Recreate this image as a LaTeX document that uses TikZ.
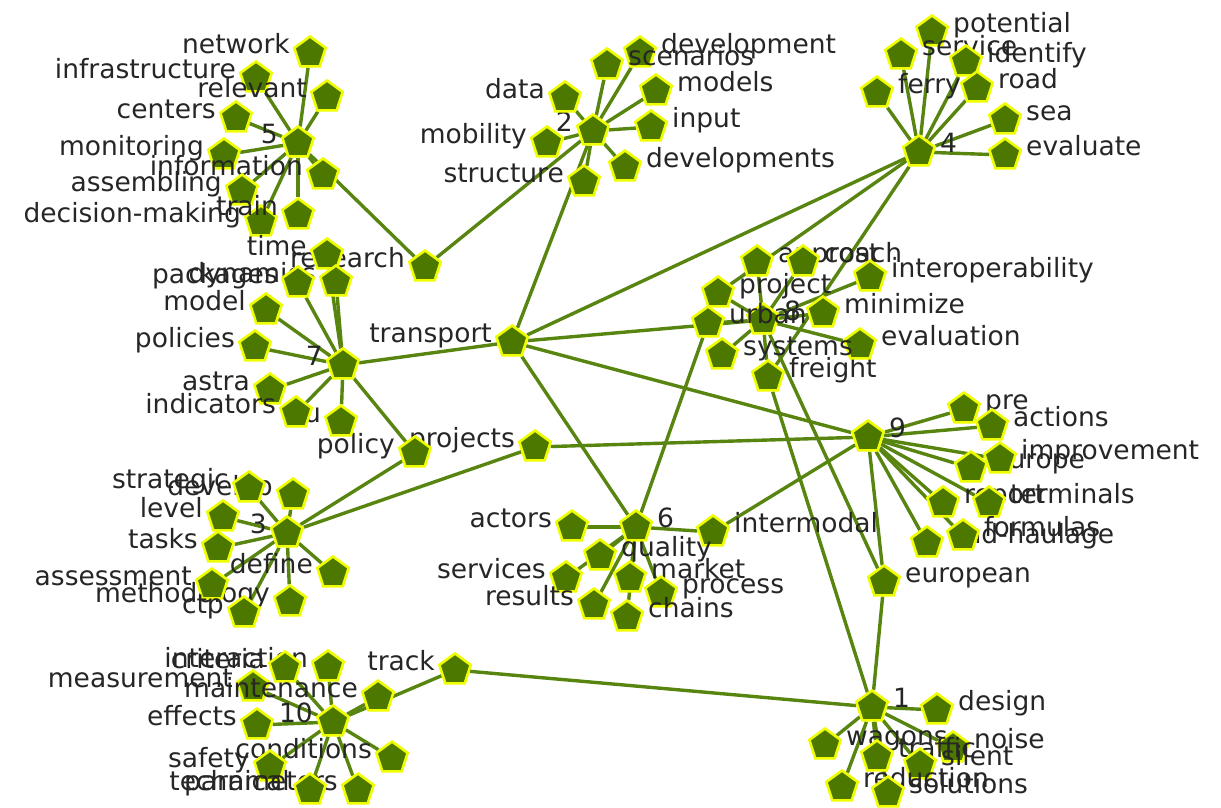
\documentclass[tikz,border=0pt]{standalone}
\usepackage{fontspec}
\newfontfamily\lblfont{DejaVu Sans}
\usetikzlibrary{shapes.geometric,backgrounds}
\definecolor{nodegreen}{RGB}{76,120,0}
\definecolor{nodeyellow}{RGB}{240,255,0}
\definecolor{edgegreen}{RGB}{88,132,16}
\tikzset{
  wn/.style={regular polygon, regular polygon sides=5, minimum size=33pt, inner sep=0pt,
             fill=nodegreen, draw=nodeyellow, line width=2.6pt},
  lbl/.style={font=\lblfont\fontsize{26.5pt}{26.5pt}\selectfont, text=black!85, inner sep=0pt},
  ed/.style={draw=edgegreen, line width=3.4pt},
}
\newcommand\leafL[4]{\node[wn] (#1) at (#2,#3) {};
  \node[lbl,anchor=base east] (#1-t) at ([xshift=-20pt]#1.center) {#4};}
\newcommand\leafR[4]{\node[wn] (#1) at (#2,#3) {};
  \node[lbl,anchor=base west] (#1-t) at ([xshift=21pt]#1.center) {#4};}
\begin{document}
\begin{tikzpicture}[x=1pt,y=-1pt]
\useasboundingbox (0,0) rectangle (1221,807);
% hubs
\leafL{h5}{298}{143}{5}
\leafL{h2}{593}{131}{2}
\leafR{h4}{919}{152}{4}
\leafL{h7}{343}{365}{7}
\leafR{h8}{763}{320}{8}
\leafR{h9}{868}{437}{9}
\leafR{h6}{636}{527}{6}
\leafL{h3}{287}{533}{3}
\leafL{h10}{333}{722}{10}
\leafR{h1}{872}{707}{1}
% shared words
\leafL{transport}{512}{342}{transport}
\leafL{research}{425}{267}{research}
\leafL{projects}{535}{447}{projects}
\leafL{policy}{415}{453}{policy}
\leafR{intermodal}{713}{532}{intermodal}
\leafR{european}{884}{582}{european}
\leafR{freight}{768}{377}{freight}
\leafR{urban}{708}{323}{urban}
\leafR{project}{718}{293}{project}
\leafL{track}{455}{670}{track}
% cluster 5
\leafL{network}{310}{53}{network}
\leafL{infra}{256}{78}{infrastructure}
\leafL{relevant}{327}{97}{relevant}
\leafL{centers}{236}{118}{centers}
\leafL{monitoring}{224}{155}{monitoring}
\leafL{information}{323}{175}{information}
\leafL{assembling}{242}{191}{assembling}
\leafL{decision}{261}{222}{decision-making}
\leafL{train}{298}{215}{train}
% cluster 2
\leafR{development}{640}{53}{development}
\leafR{scenarios}{607}{65}{scenarios}
\leafL{data}{565}{98}{data}
\leafR{models}{656}{91}{models}
\leafR{input}{651}{127}{input}
\leafL{mobility}{547}{143}{mobility}
\leafL{structure}{584}{182}{structure}
\leafR{developments}{625}{167}{developments}
% cluster 4
\leafR{potential}{932}{32}{potential}
\leafR{service}{901}{55}{service}
\leafR{identify}{966}{62}{identify}
\leafR{ferry}{877}{93}{ferry}
\leafR{road}{977}{88}{road}
\leafR{sea}{1005}{120}{sea}
\leafR{evaluate}{1005}{155}{evaluate}
% cluster 8
\leafR{approach}{757}{262}{approach}
\leafR{cost}{803}{262}{cost}
\leafR{interop}{870}{277}{interoperability}
\leafR{minimize}{823}{313}{minimize}
\leafR{evaluation}{860}{345}{evaluation}
\leafR{systems}{722}{355}{systems}
% cluster 9
\leafR{pre}{964}{409}{pre}
\leafR{actions}{992}{426}{actions}
\leafR{europe}{971}{468}{europe}
\leafR{improvement}{1000}{459}{improvement}
\leafR{report}{943}{503}{report}
\leafR{terminals}{989}{503}{terminals}
\leafR{endh}{927}{543}{end-haulage}
\leafR{formulas}{963}{536}{formulas}
% cluster 6
\leafL{actors}{572}{527}{actors}
\leafR{quality}{600}{556}{quality}
\leafL{services}{566}{578}{services}
\leafL{results}{594}{605}{results}
\leafR{market}{630}{578}{market}
\leafR{process}{661}{593}{process}
\leafR{chains}{627}{617}{chains}
% cluster 7
\leafL{time}{327}{255}{time}
\leafL{dynamics}{336}{282}{dynamics}
\leafL{packages}{298}{283}{packages}
\leafL{model}{266}{310}{model}
\leafL{policies}{255}{347}{policies}
\leafL{astra}{270}{390}{astra}
\leafL{eu}{341}{422}{eu}
\leafL{indicators}{296}{413}{indicators}
% cluster 3
\leafL{develop}{293}{495}{develop}
\leafL{strategic}{249}{488}{strategic}
\leafL{level}{223}{517}{level}
\leafL{tasks}{218}{548}{tasks}
\leafL{methodology}{290}{602}{methodology}
\leafL{assessment}{212}{585}{assessment}
\leafL{define}{333}{573}{define}
\leafL{ctp}{244}{613}{ctp}
% cluster 10
\leafL{interaction}{328}{667}{interaction}
\leafL{criteria}{285}{668}{criteria}
\leafL{measurement}{253}{687}{measurement}
\leafL{maintenance}{378}{697}{maintenance}
\leafL{effects}{257}{725}{effects}
\leafL{conditions}{392}{758}{conditions}
\leafL{safety}{270}{767}{safety}
\leafL{parameters}{358}{790}{parameters}
\leafL{technical}{310}{790}{technical}
% cluster 1
\leafR{design}{937}{710}{design}
\leafR{wagons}{825}{745}{wagons}
\leafR{noise}{953}{748}{noise}
\leafR{traffic}{877}{757}{traffic}
\leafR{silent}{920}{765}{silent}
\leafR{reduction}{842}{787}{reduction}
\leafR{solutions}{888}{793}{solutions}
% edges
\begin{scope}[on background layer]
\foreach \a/\b in {h5/network,h5/infra,h5/relevant,h5/centers,h5/monitoring,h5/information,h5/assembling,h5/decision,h5/train,h5/research,
  h2/development,h2/scenarios,h2/data,h2/models,h2/input,h2/mobility,h2/structure,h2/developments,h2/research,h2/transport,
  h4/potential,h4/service,h4/identify,h4/ferry,h4/road,h4/sea,h4/evaluate,h4/transport,h4/project,h4/freight,
  h8/approach,h8/cost,h8/interop,h8/project,h8/urban,h8/minimize,h8/evaluation,h8/systems,h8/freight,h8/transport,h8/european,
  h9/pre,h9/actions,h9/improvement,h9/europe,h9/terminals,h9/report,h9/formulas,h9/endh,h9/transport,h9/projects,h9/intermodal,h9/european,
  h6/actors,h6/quality,h6/services,h6/results,h6/market,h6/process,h6/chains,h6/transport,h6/urban,h6/intermodal,
  h7/time,h7/dynamics,h7/packages,h7/model,h7/policies,h7/astra,h7/indicators,h7/eu,h7/policy,h7/transport,
  h3/strategic,h3/develop,h3/level,h3/tasks,h3/assessment,h3/methodology,h3/define,h3/ctp,h3/policy,h3/projects,
  h10/criteria,h10/interaction,h10/measurement,h10/maintenance,h10/effects,h10/conditions,h10/safety,h10/technical,h10/parameters,h10/track,
  h1/design,h1/wagons,h1/noise,h1/traffic,h1/silent,h1/reduction,h1/solutions,h1/track,h1/european,h1/freight}
  \draw[ed] (\a) -- (\b);
\end{scope}
\end{tikzpicture}
\end{document}
